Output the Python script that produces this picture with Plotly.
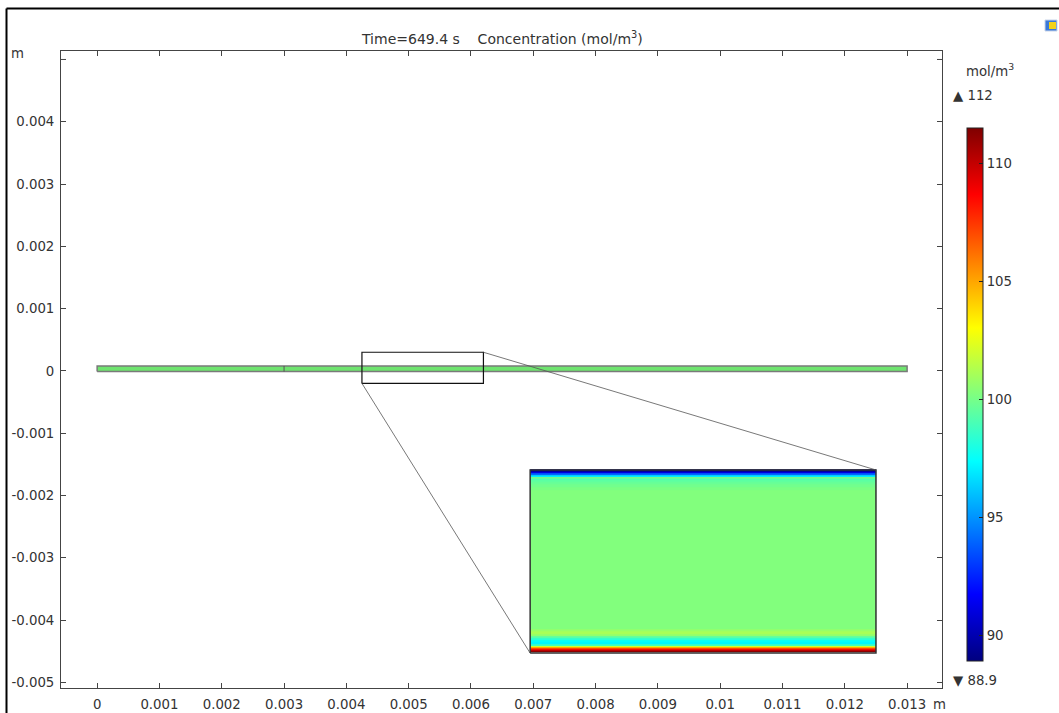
import plotly.graph_objects as go

# ---------------- data ----------------
time_s = 649.4
x_ticks = [0, 0.001, 0.002, 0.003, 0.004, 0.005, 0.006, 0.007, 0.008, 0.009, 0.01, 0.011, 0.012, 0.013]
x_ticktext = ["0", "0.001", "0.002", "0.003", "0.004", "0.005", "0.006", "0.007", "0.008", "0.009", "0.01", "0.011", "0.012", "0.013"]
y_ticks = [-0.005, -0.004, -0.003, -0.002, -0.001, 0, 0.001, 0.002, 0.003, 0.004]
y_ticktext = ["-0.005", "-0.004", "-0.003", "-0.002", "-0.001", "0", "0.001", "0.002", "0.003", "0.004"]
y_top_tick = 0.005
cbar_ticks = [90, 95, 100, 105, 110]
c_min = 88.9
c_max = 111.5

# strip geometry (m)
strip_x = [0, 0.013, 0.013, 0, 0]
strip_y = [-0.00001, -0.00001, 0.00008, 0.00008, -0.00001]
boundary_x = [0.003, 0.003]
boundary_y = [-0.00001, 0.00008]

# zoom window (m)
zoom_x = [0.00425, 0.0062, 0.0062, 0.00425, 0.00425]
zoom_y = [-0.0002, -0.0002, 0.0003, 0.0003, -0.0002]

# inset window (m, in the main axes)
inset_x = [0.00695, 0.0125]
inset_y = [-0.00453, -0.00159]

# concentration profile across the strip thickness
# depth = fraction of thickness measured from the top surface
depth = [0.0, 0.008, 0.016, 0.025, 0.033, 0.041, 0.049, 0.060, 0.071, 0.087, 0.104, 0.12,
         0.5, 0.86, 0.875, 0.89, 0.902, 0.913, 0.924, 0.935, 0.948, 0.959, 0.964, 0.970,
         0.975, 0.981, 0.986, 0.992]
conc = [88.9, 89.6, 91.5, 94.0, 97.0, 100.8, 99.2, 99.5, 99.7, 99.9, 100.1, 100.25,
        100.25, 100.25, 100.7, 101.1, 100.6, 99.3, 98.3, 97.4, 97.2, 98.8, 103.0, 105.5,
        107.5, 109.0, 110.5, 111.5]

# ---------------- layout helpers ----------------
W, H = 1059, 713
L, R, T, B = 61, 942, 51, 688
x_range = [-0.00058, 0.01356]
y_range = [-0.00509, 0.005136]


def px(p):
    return (p - L) / (R - L)


def py(p):
    return (B - p) / (B - T)


jet = [[0.0, "#00007f"], [0.125, "#0000ff"], [0.375, "#00ffff"],
       [0.625, "#ffff00"], [0.875, "#ff0000"], [1.0, "#7f0000"]]

font = "DejaVu Sans, Verdana, sans-serif"
fs = 13.3

fig = go.Figure()

# inset heatmap
ih = inset_y[1] - inset_y[0]
inset_centers = [inset_y[1] - d * ih for d in depth]
z = [[c] for c in conc]
fig.add_trace(go.Heatmap(
    x=inset_x, y=inset_centers, z=z, colorscale=jet, zmin=c_min, zmax=c_max,
    showscale=True, hoverinfo="skip",
    colorbar=dict(
        x=px(967), xanchor="left", xpad=0, ypad=0,
        y=py(394.5), yanchor="middle",
        len=533, lenmode="pixels", thickness=16, thicknessmode="pixels",
        outlinewidth=1, outlinecolor="#222",
        tickvals=cbar_ticks, ticks="inside", ticklen=4, tickcolor="#222",
        tickfont=dict(family=font, size=fs, color="#333"),
    ),
))

# inset border
fig.add_trace(go.Scatter(
    x=[inset_x[0], inset_x[1], inset_x[1], inset_x[0], inset_x[0]],
    y=[inset_y[0], inset_y[0], inset_y[1], inset_y[1], inset_y[0]],
    mode="lines", line=dict(color="#333", width=1.5), hoverinfo="skip", showlegend=False))

# strip
fig.add_trace(go.Scatter(x=strip_x, y=strip_y, mode="lines", fill="toself",
                         fillcolor="#6fe46f", line=dict(color="#7a7a7a", width=1.5),
                         hoverinfo="skip", showlegend=False))
fig.add_trace(go.Scatter(x=boundary_x, y=boundary_y, mode="lines",
                         line=dict(color="#555", width=1), hoverinfo="skip", showlegend=False))

# zoom window
fig.add_trace(go.Scatter(x=zoom_x, y=zoom_y, mode="lines",
                         line=dict(color="#111", width=1.2), hoverinfo="skip", showlegend=False))

# connector lines
fig.add_trace(go.Scatter(x=[zoom_x[1], inset_x[1]], y=[zoom_y[2], inset_y[1]], mode="lines",
                         line=dict(color="#555", width=0.8), hoverinfo="skip", showlegend=False))
fig.add_trace(go.Scatter(x=[zoom_x[0], inset_x[0]], y=[zoom_y[0], inset_y[0]], mode="lines",
                         line=dict(color="#555", width=0.8), hoverinfo="skip", showlegend=False))

axis_common = dict(showgrid=False, zeroline=False, showline=True, linecolor="#444", linewidth=1,
                   mirror="ticks", ticks="inside", ticklen=5, tickcolor="#444", tickwidth=1,
                   automargin=False,
                   tickfont=dict(family=font, size=fs, color="#333"))

fig.update_xaxes(range=x_range, tickvals=x_ticks, ticktext=x_ticktext,
                 ticklabelstandoff=4, **axis_common)
fig.update_yaxes(range=y_range, tickvals=y_ticks, ticktext=y_ticktext,
                 ticklabelstandoff=3, **axis_common)

ann_font = dict(family=font, size=fs, color="#333")
annotations = [
    dict(x=0.5, y=py(38), xref="paper", yref="paper", showarrow=False,
         text="Time=%s s    Concentration (mol/m<sup>3</sup>)" % time_s,
         font=dict(family=font, size=14, color="#333"),
         xanchor="center", yanchor="middle"),
    dict(x=px(9), y=py(53), xref="paper", yref="paper", showarrow=False, text="m",
         font=ann_font, xanchor="left", yanchor="middle"),
    dict(x=px(931), y=py(704), xref="paper", yref="paper", showarrow=False, text="m",
         font=ann_font, xanchor="left", yanchor="middle"),
    dict(x=px(990), y=py(70), xref="paper", yref="paper", showarrow=False, text="mol/m<sup>3</sup>",
         font=ann_font, xanchor="center", yanchor="middle"),
    dict(x=px(951), y=py(95), xref="paper", yref="paper", showarrow=False,
         text="▲ %d" % round(c_max), font=ann_font,
         xanchor="left", yanchor="middle"),
    dict(x=px(951), y=py(680), xref="paper", yref="paper", showarrow=False,
         text="▼ %s" % c_min, font=ann_font,
         xanchor="left", yanchor="middle"),
]

shapes = [
    # unlabeled top tick on both y axes
    dict(type="line", xref="paper", yref="y", x0=0, x1=px(L + 5), y0=y_top_tick, y1=y_top_tick,
         line=dict(color="#444", width=1)),
    dict(type="line", xref="paper", yref="y", x0=px(R - 5), x1=1, y0=y_top_tick, y1=y_top_tick,
         line=dict(color="#444", width=1)),
    # outer frame (top and left edges)
    dict(type="line", xref="paper", yref="paper", x0=px(6.5), x1=px(1060), y0=py(8.5), y1=py(8.5),
         line=dict(color="#000", width=2)),
    dict(type="line", xref="paper", yref="paper", x0=px(6.5), x1=px(6.5), y0=py(8.5), y1=py(714),
         line=dict(color="#000", width=2)),
    # small icon top-right
    dict(type="rect", xref="paper", yref="paper", x0=px(1045), x1=px(1057), y0=py(31), y1=py(20),
         fillcolor="#3a78d8", line=dict(color="#c8d4e8", width=1)),
    dict(type="rect", xref="paper", yref="paper", x0=px(1049), x1=px(1056), y0=py(29), y1=py(22),
         fillcolor="#f2d21a", line=dict(width=0)),
]

fig.update_layout(
    width=W, height=H, autosize=False,
    margin=dict(l=L, r=W - R, t=T, b=H - B, pad=0, autoexpand=False),
    paper_bgcolor="white", plot_bgcolor="white",
    showlegend=False, annotations=annotations, shapes=shapes,
)

fig.write_html("out.html", config={"displayModeBar": False},
               post_script="document.body.style.margin='0px';document.body.style.overflow='hidden';")
